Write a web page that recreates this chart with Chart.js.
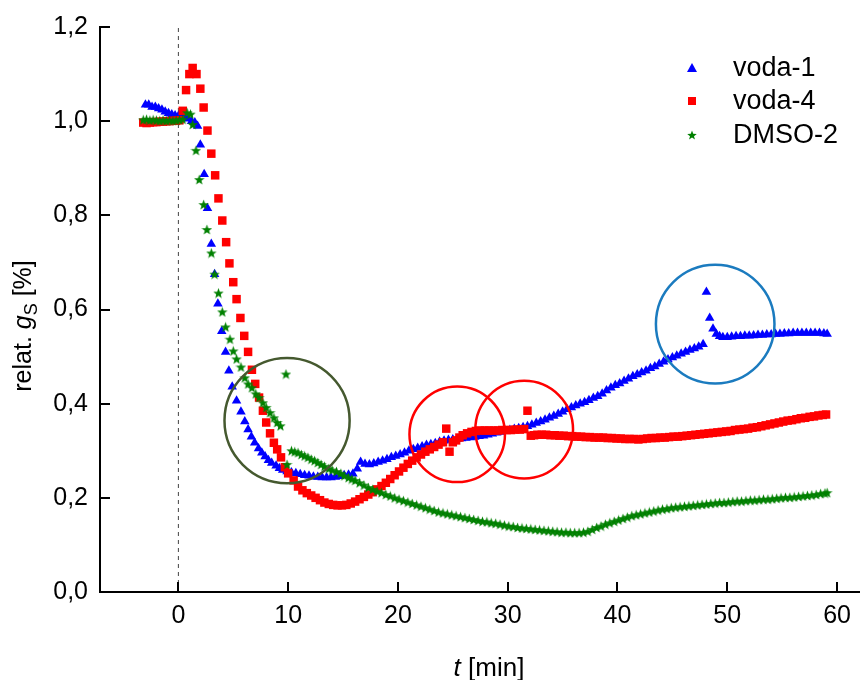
<!DOCTYPE html>
<html>
<head>
<meta charset="utf-8">
<script src="https://cdn.jsdelivr.net/npm/chart.js@4/dist/chart.umd.min.js"></script>
<style>
  html, body { margin: 0; padding: 0; background: #fff; }
  #wrap { width: 865px; height: 680px; }
</style>
</head>
<body>
<div id="wrap"><canvas id="gsChart" width="865" height="680"></canvas></div>
<script>
// x tick positions and y tick labels
const xTickValues = [0, 10, 20, 30, 40, 50, 60];
const yTickValues = [0, 0.2, 0.4, 0.6, 0.8, 1.0, 1.2];
const yTickLabels = ["0,0", "0,2", "0,4", "0,6", "0,8", "1,0", "1,2"];
const seriesNames = ["voda-1", "voda-4", "DMSO-2"];

// [t (min), relative gS]
const voda1 = [
  [-3.0,1.035],[-2.7,1.035],[-2.4,1.03],[-2.1,1.03],[-1.8,1.027],[-1.5,1.024],[-1.2,1.02],[-0.9,1.017],
  [-0.6,1.014],[-0.3,1.012],[0.0,1.011],[0.3,1.01],[0.6,1.008],[0.9,1.005],[1.2,1.0],[1.5,0.997],
  [1.75,0.99],[2.0,0.95],[2.35,0.887],[2.65,0.815],[3.0,0.739],[3.3,0.675],[3.6,0.612],[3.95,0.554],
  [4.3,0.51],[4.6,0.47],[4.9,0.436],[5.3,0.406],[5.7,0.383],[6.05,0.362],[6.35,0.345],[6.65,0.33],
  [6.95,0.317],[7.3,0.305],[7.6,0.296],[7.9,0.288],[8.2,0.28],[8.5,0.274],[8.9,0.268],[9.2,0.263],
  [9.5,0.259],[9.9,0.256],[10.3,0.254],[10.7,0.252],[11.1,0.25],[11.5,0.248],[11.9,0.247],[12.3,0.245],
  [12.7,0.244],[13.1,0.243],[13.5,0.243],[13.9,0.243],[14.3,0.244],[14.7,0.246],[15.1,0.248],[15.5,0.249],
  [15.9,0.251],[16.3,0.262],[16.6,0.276],[17.0,0.272],[17.4,0.271],[17.8,0.273],[18.2,0.276],[18.6,0.279],
  [19.0,0.282],[19.4,0.286],[19.8,0.289],[20.2,0.292],[20.6,0.296],[21.0,0.3],[21.4,0.303],[21.8,0.306],
  [22.2,0.309],[22.6,0.312],[23.0,0.314],[23.4,0.316],[23.8,0.319],[24.2,0.321],[24.6,0.323],[25.0,0.324],
  [25.4,0.325],[25.8,0.326],[26.2,0.327],[26.6,0.328],[27.0,0.329],[27.4,0.331],[27.8,0.332],[28.2,0.334],
  [28.6,0.336],[29.0,0.338],[29.4,0.34],[29.8,0.342],[30.2,0.344],[30.6,0.346],[31.0,0.348],[31.4,0.35],
  [31.8,0.352],[32.2,0.355],[32.6,0.359],[33.0,0.362],[33.4,0.366],[33.8,0.37],[34.2,0.374],[34.6,0.378],
  [35.0,0.383],[35.4,0.388],[35.8,0.392],[36.2,0.396],[36.6,0.4],[37.0,0.403],[37.4,0.407],[37.8,0.412],
  [38.2,0.416],[38.6,0.421],[39.0,0.428],[39.4,0.434],[39.8,0.439],[40.2,0.443],[40.6,0.448],[41.0,0.453],
  [41.4,0.458],[41.8,0.462],[42.2,0.466],[42.6,0.47],[43.0,0.475],[43.4,0.479],[43.8,0.484],[44.2,0.489],
  [44.6,0.494],[45.0,0.498],[45.4,0.502],[45.8,0.506],[46.2,0.51],[46.6,0.514],[47.0,0.517],[47.4,0.521],
  [47.8,0.526],[48.1,0.637],[48.4,0.582],[48.7,0.559],[49.0,0.548],[49.3,0.543],[49.6,0.541],[50.0,0.541],
  [50.4,0.542],[50.8,0.543],[51.2,0.543],[51.6,0.544],[52.0,0.544],[52.4,0.545],[52.8,0.546],[53.2,0.546],
  [53.6,0.547],[54.0,0.547],[54.4,0.548],[54.8,0.548],[55.2,0.549],[55.6,0.549],[56.0,0.55],[56.4,0.55],
  [56.8,0.55],[57.2,0.55],[57.6,0.55],[58.0,0.55],[58.4,0.55],[58.8,0.549],[59.1,0.548]
];

const voda4 = [
  [-3.2,0.997],[-2.9,0.996],[-2.6,0.997],[-2.3,0.998],[-2.0,0.998],[-1.7,0.999],[-1.4,0.999],[-1.1,1.0],
  [-0.8,1.0],[-0.5,1.001],[-0.2,1.001],[0.1,1.002],[0.4,1.022],[0.7,1.066],[1.0,1.1],[1.3,1.113],
  [1.65,1.1],[2.0,1.069],[2.3,1.029],[2.65,0.98],[3.0,0.931],[3.35,0.885],[3.65,0.836],[4.0,0.789],
  [4.35,0.743],[4.65,0.698],[5.0,0.658],[5.3,0.622],[5.65,0.582],[6.0,0.544],[6.35,0.51],[6.7,0.472],
  [7.0,0.442],[7.35,0.413],[7.7,0.385],[8.0,0.36],[8.35,0.337],[8.7,0.317],[9.0,0.303],[9.35,0.286],
  [9.7,0.265],[10.0,0.252],[10.5,0.237],[10.9,0.224],[11.3,0.216],[11.7,0.21],[12.1,0.205],[12.5,0.2],
  [12.9,0.195],[13.3,0.19],[13.7,0.187],[14.1,0.185],[14.5,0.184],[14.9,0.184],[15.3,0.185],[15.7,0.188],
  [16.1,0.192],[16.5,0.197],[16.9,0.202],[17.3,0.207],[17.7,0.212],[18.1,0.218],[18.5,0.225],[18.9,0.232],
  [19.3,0.24],[19.7,0.248],[20.1,0.256],[20.5,0.264],[20.9,0.272],[21.3,0.279],[21.7,0.286],[22.1,0.292],
  [22.5,0.298],[22.9,0.303],[23.3,0.308],[23.7,0.313],[24.1,0.318],[24.4,0.347],[24.7,0.298],[25.0,0.318],
  [25.3,0.322],[25.6,0.328],[25.9,0.333],[26.3,0.337],[26.7,0.34],[27.1,0.342],[27.5,0.343],[27.9,0.343],
  [28.3,0.343],[28.7,0.343],[29.1,0.343],[29.5,0.344],[29.9,0.344],[30.3,0.344],[30.7,0.345],[31.1,0.345],
  [31.5,0.346],[31.8,0.385],[32.1,0.332],[32.4,0.333],[32.7,0.334],[33.1,0.334],[33.5,0.334],[33.9,0.333],
  [34.3,0.333],[34.7,0.332],[35.1,0.332],[35.5,0.331],[35.9,0.331],[36.3,0.33],[36.7,0.33],[37.1,0.329],
  [37.5,0.329],[37.9,0.328],[38.3,0.328],[38.7,0.328],[39.1,0.327],[39.5,0.327],[39.9,0.326],[40.3,0.326],
  [40.7,0.325],[41.1,0.325],[41.5,0.325],[41.9,0.324],[42.3,0.325],[42.7,0.326],[43.1,0.327],[43.5,0.327],
  [43.9,0.328],[44.3,0.328],[44.7,0.329],[45.1,0.33],[45.5,0.33],[45.9,0.331],[46.3,0.332],[46.7,0.333],
  [47.1,0.334],[47.5,0.335],[47.9,0.336],[48.3,0.337],[48.7,0.338],[49.1,0.339],[49.5,0.34],[49.9,0.341],
  [50.3,0.342],[50.7,0.344],[51.1,0.345],[51.5,0.346],[51.9,0.347],[52.3,0.349],[52.7,0.35],[53.1,0.352],
  [53.5,0.354],[53.9,0.356],[54.3,0.358],[54.7,0.36],[55.1,0.362],[55.5,0.364],[55.9,0.365],[56.3,0.367],
  [56.7,0.369],[57.1,0.37],[57.5,0.372],[57.9,0.373],[58.3,0.375],[58.7,0.376],[59.0,0.377]
];

const dmso2 = [
  [-3.2,1.003],[-2.9,1.004],[-2.6,1.002],[-2.3,1.003],[-2.0,1.002],[-1.7,1.001],[-1.4,1.002],[-1.1,1.001],
  [-0.8,1.002],[-0.5,1.001],[-0.2,1.002],[0.1,1.003],[0.4,1.004],[0.8,1.018],[1.1,1.015],[1.3,0.993],
  [1.6,0.938],[1.9,0.876],[2.3,0.823],[2.6,0.77],[3.0,0.72],[3.3,0.675],[3.65,0.635],[4.0,0.595],
  [4.3,0.563],[4.7,0.537],[5.0,0.512],[5.3,0.495],[5.7,0.478],[6.05,0.455],[6.35,0.442],[6.7,0.434],
  [7.05,0.421],[7.35,0.413],[7.7,0.402],[8.0,0.392],[8.35,0.381],[8.7,0.37],[9.0,0.36],[9.3,0.353],
  [9.8,0.463],[9.9,0.271],[10.3,0.3],[10.6,0.298],[10.9,0.296],[11.2,0.292],[11.5,0.289],[11.8,0.286],
  [12.1,0.282],[12.4,0.279],[12.7,0.275],[13.0,0.271],[13.3,0.267],[13.7,0.262],[14.0,0.259],[14.4,0.256],
  [14.8,0.252],[15.1,0.247],[15.5,0.243],[15.8,0.24],[16.1,0.237],[16.5,0.232],[16.9,0.227],[17.3,0.222],
  [17.7,0.218],[18.1,0.214],[18.5,0.211],[18.9,0.207],[19.3,0.204],[19.7,0.2],[20.1,0.197],[20.5,0.194],
  [20.9,0.191],[21.3,0.188],[21.7,0.185],[22.1,0.182],[22.5,0.179],[22.9,0.176],[23.3,0.173],[23.7,0.17],
  [24.1,0.168],[24.5,0.166],[24.9,0.164],[25.3,0.162],[25.7,0.16],[26.1,0.158],[26.5,0.156],[26.9,0.154],
  [27.3,0.152],[27.7,0.15],[28.1,0.149],[28.5,0.147],[28.9,0.146],[29.3,0.144],[29.7,0.142],[30.1,0.14],
  [30.5,0.139],[30.9,0.137],[31.3,0.136],[31.7,0.135],[32.1,0.134],[32.5,0.133],[32.9,0.132],[33.3,0.131],
  [33.7,0.13],[34.1,0.129],[34.5,0.128],[34.9,0.127],[35.3,0.127],[35.7,0.126],[36.1,0.126],[36.5,0.126],
  [36.9,0.127],[37.3,0.129],[37.7,0.133],[38.1,0.137],[38.5,0.14],[38.9,0.144],[39.3,0.147],[39.7,0.15],
  [40.1,0.153],[40.5,0.156],[40.9,0.159],[41.3,0.162],[41.7,0.164],[42.1,0.166],[42.5,0.168],[42.9,0.17],
  [43.3,0.172],[43.7,0.174],[44.1,0.176],[44.5,0.177],[44.9,0.179],[45.3,0.18],[45.7,0.181],[46.1,0.182],
  [46.5,0.183],[46.9,0.184],[47.3,0.185],[47.7,0.186],[48.1,0.187],[48.5,0.188],[48.9,0.189],[49.3,0.19],
  [49.7,0.19],[50.1,0.191],[50.5,0.192],[50.9,0.193],[51.3,0.193],[51.7,0.194],[52.1,0.195],[52.5,0.195],
  [52.9,0.196],[53.3,0.197],[53.7,0.197],[54.1,0.198],[54.5,0.199],[54.9,0.2],[55.3,0.201],[55.7,0.201],
  [56.1,0.202],[56.5,0.203],[56.9,0.204],[57.3,0.205],[57.7,0.206],[58.1,0.207],[58.5,0.209],[58.9,0.21],
  [59.1,0.211]
];

// highlighted regions: [t centre, gS centre, radius in minutes]
const circleSpots = [[9.9, 0.364, 5.7], [25.4, 0.335, 4.35], [31.5, 0.345, 4.45], [48.9, 0.569, 5.4]];
const circleColors = ["#45592f", "#ff0000", "#ff0000", "#1b7bbf"];

const FONT = "'Liberation Sans', Arial, Helvetica, sans-serif";

function makeStar(size, color) {
  const c = document.createElement("canvas");
  c.width = size;
  c.height = size;
  const g = c.getContext("2d");
  const cx = size / 2, cy = size / 2, ro = size / 2, ri = ro * 0.42;
  g.beginPath();
  for (let i = 0; i < 10; i++) {
    const r = i % 2 === 0 ? ro : ri;
    const a = -Math.PI / 2 + (i * Math.PI) / 5;
    const px = cx + r * Math.cos(a);
    const py = cy + r * Math.sin(a) + size * 0.05;
    if (i === 0) g.moveTo(px, py);
    else g.lineTo(px, py);
  }
  g.closePath();
  g.fillStyle = color;
  g.fill();
  return c;
}

const starPoint = makeStar(11, "#008000");
const starLegend = makeStar(10, "#008000");

const toXY = (arr) => arr.map(([x, y]) => ({ x: x, y: y }));

// dashed t = 0 line, circles, inward ticks, legend and axis titles
const decorPlugin = {
  id: "decor",
  beforeDatasetsDraw(chart) {
    const { ctx, chartArea, scales } = chart;
    const x0 = scales.x.getPixelForValue(0);
    ctx.save();
    ctx.strokeStyle = "#444";
    ctx.lineWidth = 1;
    ctx.setLineDash([4, 4]);
    ctx.beginPath();
    ctx.moveTo(x0, chartArea.bottom);
    ctx.lineTo(x0, chartArea.top);
    ctx.stroke();
    ctx.restore();
  },
  afterDatasetsDraw(chart) {
    const { ctx, chartArea, scales } = chart;
    const xs = scales.x, ys = scales.y;
    ctx.save();
    circleSpots.forEach(([t, v, r], i) => {
      const cx = xs.getPixelForValue(t);
      const cy = ys.getPixelForValue(v);
      const rp = xs.getPixelForValue(t + r) - cx;
      ctx.beginPath();
      ctx.arc(cx, cy, rp, 0, Math.PI * 2);
      ctx.strokeStyle = circleColors[i];
      ctx.lineWidth = 2.5;
      ctx.stroke();
    });

    // inward tick marks
    ctx.strokeStyle = "#000";
    ctx.lineWidth = 2;
    xTickValues.forEach((v) => {
      const px = Math.round(xs.getPixelForValue(v));
      ctx.beginPath();
      ctx.moveTo(px, chartArea.bottom);
      ctx.lineTo(px, chartArea.bottom - 10);
      ctx.stroke();
    });
    yTickValues.forEach((v) => {
      const py = Math.round(ys.getPixelForValue(v));
      ctx.beginPath();
      ctx.moveTo(chartArea.left, py);
      ctx.lineTo(chartArea.left + 10, py);
      ctx.stroke();
    });

    // legend
    const lx = 692, ly = [68, 101, 135];
    ctx.fillStyle = "#0000ff";
    ctx.beginPath();
    ctx.moveTo(lx, ly[0] - 5);
    ctx.lineTo(lx + 5, ly[0] + 4);
    ctx.lineTo(lx - 5, ly[0] + 4);
    ctx.closePath();
    ctx.fill();
    ctx.fillStyle = "#ff0000";
    ctx.fillRect(lx - 4, ly[1] - 4, 8, 8);
    ctx.drawImage(starLegend, lx - 5, ly[2] - 5);
    ctx.fillStyle = "#000";
    ctx.font = "27px " + FONT;
    ctx.textAlign = "left";
    ctx.textBaseline = "middle";
    seriesNames.forEach((name, i) => ctx.fillText(name, 733, ly[i] + 1));

    // x title: italic t + [min]
    const xMid = 489, xBase = 676;
    ctx.textBaseline = "alphabetic";
    ctx.font = "italic 26px " + FONT;
    const wT = ctx.measureText("t").width;
    ctx.font = "26px " + FONT;
    const wRest = ctx.measureText(" [min]").width;
    let sx = xMid - (wT + wRest) / 2;
    ctx.font = "italic 26px " + FONT;
    ctx.fillText("t", sx, xBase);
    ctx.font = "26px " + FONT;
    ctx.fillText(" [min]", sx + wT, xBase);

    // y title: relat. gS [%]
    ctx.translate(31, 326);
    ctx.rotate(-Math.PI / 2);
    const parts = [
      ["relat. ", "25px " + FONT, 0],
      ["g", "italic 25px " + FONT, 0],
      ["S", "18px " + FONT, 6],
      [" [%]", "25px " + FONT, 0]
    ];
    let total = 0;
    parts.forEach((p) => { ctx.font = p[1]; total += ctx.measureText(p[0]).width; });
    let px = -total / 2;
    parts.forEach((p) => {
      ctx.font = p[1];
      ctx.fillText(p[0], px, p[2]);
      px += ctx.measureText(p[0]).width;
    });
    ctx.restore();
  }
};

const ctx = document.getElementById("gsChart").getContext("2d");

const gsChart = new Chart(ctx, {
  type: "scatter",
  data: {
    datasets: [
      {
        label: seriesNames[0],
        data: toXY(voda1),
        pointStyle: "triangle",
        pointRadius: 5.5,
        backgroundColor: "#0000ff",
        borderColor: "#0000ff",
        borderWidth: 0,
        order: 3,
      },
      {
        label: seriesNames[1],
        data: toXY(voda4),
        pointStyle: "rect",
        pointRadius: 6,
        backgroundColor: "#ff0000",
        borderColor: "#ff0000",
        borderWidth: 0,
        order: 2,
      },
      {
        label: seriesNames[2],
        data: toXY(dmso2),
        pointStyle: starPoint,
        pointRadius: 5.5,
        backgroundColor: "#008000",
        borderColor: "#008000",
        borderWidth: 0,
        order: 1,
      },
    ],
  },
  options: {
    responsive: false,
    animation: false,
    events: [],
    layout: { padding: { top: 25, right: 0, left: 0, bottom: 0 } },
    scales: {
      x: {
        type: "linear",
        min: -7.14,
        max: 62,
        afterBuildTicks: (axis) => { axis.ticks = xTickValues.map((v) => ({ value: v })); },
        afterFit: (scale) => { scale.height = 88; },
        grid: { display: false, drawTicks: false },
        border: { display: true, color: "#000", width: 2 },
        ticks: {
          color: "#000",
          padding: 9,
          maxRotation: 0,
          autoSkip: false,
          font: { family: FONT, size: 25 },
          callback: (value) => String(value),
        },
      },
      y: {
        type: "linear",
        min: 0,
        max: 1.2,
        afterBuildTicks: (axis) => { axis.ticks = yTickValues.map((v) => ({ value: v })); },
        afterFit: (scale) => { scale.width = 100; },
        grid: { display: false, drawTicks: false },
        border: { display: true, color: "#000", width: 2 },
        ticks: {
          color: "#000",
          padding: 12,
          autoSkip: false,
          font: { family: FONT, size: 25 },
          callback: (value, index) => yTickLabels[index],
        },
      },
    },
    plugins: {
      legend: { display: false },
      tooltip: { enabled: false },
    },
  },
  plugins: [decorPlugin],
});
</script>
</body>
</html>
